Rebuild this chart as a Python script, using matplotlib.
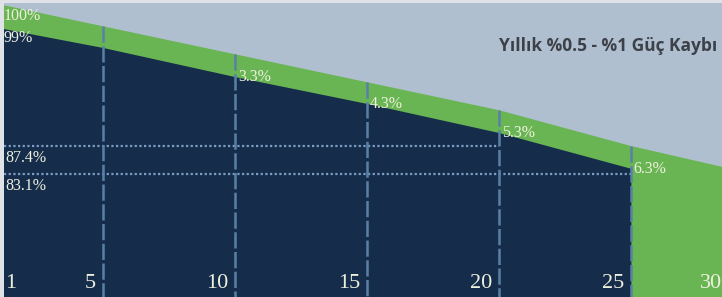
import matplotlib
matplotlib.use('Agg')
import matplotlib.pyplot as plt

# values (visual percent scale of the infographic)
years = [1, 5, 10, 15, 20, 25, 30]
top_curve = [100.1, 98.1, 95.6, 93.1, 90.6, 87.4, 84.7]      # %0.5 / yr
dark_years = [1, 5, 10, 15, 20, 25]
dark_curve = [98.0, 96.2, 93.6, 91.2, 88.6, 85.4]            # %1 / yr
gap_years = [10, 15, 20, 25]
gap_labels = ['3.3%', '4.3%', '5.3%', '6.3%']
ref_levels = [87.4, 84.9]
ref_labels = ['87.4%', '83.1%']
ref_ends = [20, 25]
tick_labels = ['1', '5', '10', '15', '20', '25', '30']
title = 'Yıllık %0.5 - %1 Güç Kaybı'

GREY = '#b0bfcf'
GREEN = '#69b553'
NAVY = '#152c4b'
DASH = '#5a80a8'
DOT = '#7e9cc0'
CREAM = '#eef0de'

XMIN, XMAX = 1.25, 28.45
YMIN, YMAX = 73.9, 100.18

fig = plt.figure(figsize=(7.22, 2.97), dpi=100, facecolor='#dfe3e8')
ax = fig.add_axes([4 / 722, 0, 718 / 722, 294 / 297])
ax.set_facecolor(GREY)
ax.set_xlim(XMIN, XMAX)
ax.set_ylim(YMIN, YMAX)
ax.set_xticks([])
ax.set_yticks([])
for s in ax.spines.values():
    s.set_visible(False)

# areas
ax.fill_between(years, top_curve, YMIN, color=GREEN, lw=0, zorder=1)
ax.fill_between(dark_years, dark_curve, YMIN, color=NAVY, lw=0, zorder=2)

# reference (dotted) lines
for lvl, end in zip(ref_levels, ref_ends):
    ax.plot([XMIN, end], [lvl, lvl], color=DOT, lw=1.6,
            linestyle=(0, (1, 1.1)), zorder=3)

# vertical dashed year lines from the top curve down
for yr, tv in zip(years[1:6], top_curve[1:6]):
    ax.plot([yr, yr], [tv, YMIN], color=DASH, lw=1.8,
            linestyle=(0, (6.5, 1.4)), zorder=4)

serif = 'Liberation Serif'
fs = 11.5

# left labels
ax.annotate('100%', xy=(XMIN, top_curve[0] - 0.1), xytext=(0, -8),
            textcoords='offset points', ha='left', va='center',
            fontsize=fs, family=serif, color=CREAM, zorder=5)
ax.annotate('99%', xy=(XMIN, dark_curve[0]), xytext=(0, -8),
            textcoords='offset points', ha='left', va='center',
            fontsize=fs, family=serif, color=CREAM, zorder=5)
for lvl, lab in zip(ref_levels, ref_labels):
    ax.annotate(lab, xy=(XMIN, lvl), xytext=(1, -9),
                textcoords='offset points', ha='left', va='center',
                fontsize=fs, family=serif, color=CREAM, zorder=5)

# gap labels right of the year lines, on the dark curve
for yr, lab in zip(gap_years, gap_labels):
    dv = dark_curve[dark_years.index(yr)]
    ax.annotate(lab, xy=(yr, dv), xytext=(2, -0.5),
                textcoords='offset points', ha='left', va='center',
                fontsize=fs, family=serif, color=CREAM, zorder=5)

# year labels along the bottom
tick_y = 75.15
for yr, lab in zip(years, tick_labels):
    if yr == 1:
        ax.annotate(lab, xy=(XMIN, tick_y), xytext=(1, 0), textcoords='offset points',
                    ha='left', va='center', fontsize=16, family=serif, color=CREAM, zorder=5)
    elif yr == 30:
        ax.annotate(lab, xy=(XMAX, tick_y), xytext=(-16, 0), textcoords='offset points',
                    ha='left', va='center', fontsize=16, family=serif, color=CREAM, zorder=5)
    else:
        ax.annotate(lab, xy=(yr, tick_y), xytext=(-5, 0), textcoords='offset points',
                    ha='right', va='center', fontsize=16, family=serif, color=CREAM, zorder=5)

ax.text(0.994, 0.855, title, transform=ax.transAxes, ha='right', va='center',
        fontsize=12.5, fontweight='bold', family='Open Sans', color='#3c4048', zorder=5)

fig.savefig('out.png', dpi=100, facecolor=fig.get_facecolor())
